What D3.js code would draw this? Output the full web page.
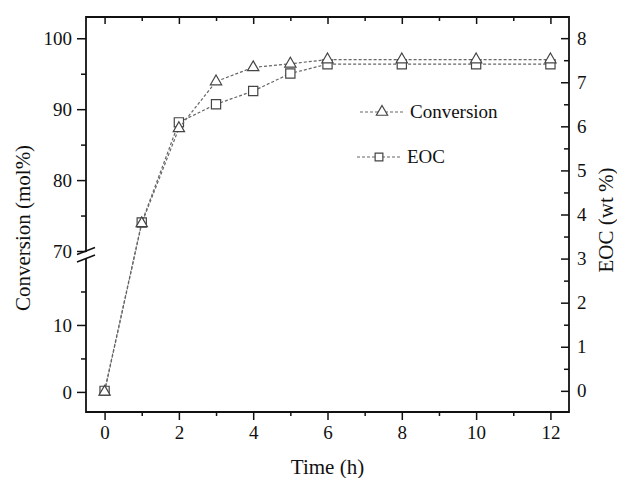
<!DOCTYPE html>
<html>
<head>
<meta charset="utf-8">
<script src="https://cdn.jsdelivr.net/npm/d3@7"></script>
<style>
    body { margin: 0; background: #fff; }
    svg { display: block; }
    text { font-family: "Liberation Serif", "Times New Roman", serif; fill: #111; }
</style>
</head>
<body>
<svg width="617" height="478"></svg>
<script>
// data
const times = [0, 1, 2, 3, 4, 5, 6, 8, 10, 12]
const conversion = [0, 73.9, 87.3, 93.9, 95.9, 96.4, 97.0, 97.0, 97.0, 97.0]   // mol%
const eoc = [0, 3.82, 6.09, 6.5, 6.8, 7.2, 7.41, 7.41, 7.41, 7.41]            // wt %

const xMajor = [0, 2, 4, 6, 8, 10, 12]
const xMinor = [1, 3, 5, 7, 9, 11]
const convLowTicks = [0, 10]
const convLowMinor = [5, 15]
const convHighTicks = [70, 80, 90, 100]
const convHighMinor = [75, 85, 95]
const eocTicks = [0, 1, 2, 3, 4, 5, 6, 7, 8]
const eocMinor = [0.5, 1.5, 2.5, 3.5, 4.5, 5.5, 6.5, 7.5]

const L = 86, R = 569, T = 17, B = 412
const BREAK = 255

const svg = d3.select('svg')

const x = d3.scaleLinear().domain([-0.5, 12.5]).range([L, R])
// broken left axis: two linear pieces
const yLow = d3.scaleLinear().domain([-3, 20]).range([B, 258])
const yHigh = d3.scaleLinear().domain([70, 103]).range([251, T])
const yConv = v => v <= 20 ? yLow(v) : yHigh(v)
const yEoc = d3.scaleLinear().domain([-0.48, 8.48]).range([B, T])

function styleAxis(g, fontSize = 19) {
    g.select('.domain').remove()
    g.selectAll('line').attr('stroke', '#111').attr('stroke-width', 1.5)
    g.selectAll('text')
        .attr('font-size', fontSize)
        .attr('font-family', '"Liberation Serif", serif')
        .attr('fill', '#111')
}

// bottom axis (ticks out)
svg.append('g').attr('transform', `translate(0,${B})`)
    .call(d3.axisBottom(x).tickValues(xMajor).tickSize(8).tickPadding(6).tickFormat(d3.format('d')))
    .call(styleAxis)
svg.append('g').attr('transform', `translate(0,${B})`)
    .call(d3.axisBottom(x).tickValues(xMinor).tickSize(4).tickFormat(''))
    .call(styleAxis)
// top axis (ticks in)
svg.append('g').attr('transform', `translate(0,${T})`)
    .call(d3.axisBottom(x).tickValues(xMajor).tickSize(7).tickFormat(''))
    .call(styleAxis)
svg.append('g').attr('transform', `translate(0,${T})`)
    .call(d3.axisBottom(x).tickValues(xMinor).tickSize(4).tickFormat(''))
    .call(styleAxis)

// left axis, two pieces
svg.append('g').attr('transform', `translate(${L},0)`)
    .call(d3.axisLeft(yLow).tickValues(convLowTicks).tickSize(9).tickPadding(5))
    .call(styleAxis)
svg.append('g').attr('transform', `translate(${L},0)`)
    .call(d3.axisLeft(yLow).tickValues(convLowMinor).tickSize(5).tickFormat(''))
    .call(styleAxis)
svg.append('g').attr('transform', `translate(${L},0)`)
    .call(d3.axisLeft(yHigh).tickValues(convHighTicks).tickSize(9).tickPadding(5))
    .call(styleAxis)
svg.append('g').attr('transform', `translate(${L},0)`)
    .call(d3.axisLeft(yHigh).tickValues(convHighMinor).tickSize(5).tickFormat(''))
    .call(styleAxis)

// right axis (ticks in, labels out)
svg.append('g').attr('transform', `translate(${R},0)`)
    .call(d3.axisRight(yEoc).tickValues(eocTicks).tickSize(-8).tickPadding(8))
    .call(styleAxis)
svg.append('g').attr('transform', `translate(${R},0)`)
    .call(d3.axisRight(yEoc).tickValues(eocMinor).tickSize(-5).tickFormat(''))
    .call(styleAxis)

// frame, left side broken
const frame = d3.path()
frame.moveTo(L, BREAK - 3)
frame.lineTo(L, T)
frame.lineTo(R, T)
frame.lineTo(R, B)
frame.lineTo(L, B)
frame.lineTo(L, BREAK + 4)
svg.append('path')
    .attr('d', frame.toString())
    .style('fill', 'none')
    .style('stroke', '#111')
    .style('stroke-width', 1.8)

// break marks
;[-3.5, 4].forEach(dy => {
    svg.append('line')
        .attr('x1', L - 9).attr('y1', BREAK + dy + 3)
        .attr('x2', L + 9).attr('y2', BREAK + dy - 4)
        .attr('stroke', '#111')
        .attr('stroke-width', 1.5)
})

// series
const line = (ys, yScale) => d3.line()
    .x((d, i) => x(times[i]))
    .y((d, i) => yScale(ys[i]))(times)

function drawSeries(ys, yScale, symbolType, size) {
    svg.append('path')
        .attr('d', line(ys, yScale))
        .style('fill', 'none')
        .style('stroke', '#666')
        .style('stroke-width', 1.2)
        .style('stroke-dasharray', '3,2')
    svg.selectAll(null)
        .data(times)
        .enter()
        .append('path')
        .attr('transform', (d, i) => `translate(${x(d)},${yScale(ys[i])})`)
        .attr('d', d3.symbol(symbolType, size))
        .style('fill', '#fff')
        .style('stroke', '#444')
        .style('stroke-width', 1.2)
}

drawSeries(eoc, yEoc, d3.symbolSquare, 85)
drawSeries(conversion, yConv, d3.symbolTriangle, 55)

// legend
function legendRow(y, symbolType, size, label, x0, x1, tx) {
    svg.append('line')
        .attr('x1', x0).attr('y1', y).attr('x2', x1).attr('y2', y)
        .style('stroke', '#666')
        .style('stroke-width', 1.2)
        .style('stroke-dasharray', '3,2')
    svg.append('path')
        .attr('transform', `translate(${(x0 + x1) / 2},${y})`)
        .attr('d', d3.symbol(symbolType, size))
        .style('fill', '#fff')
        .style('stroke', '#444')
        .style('stroke-width', 1.2)
    svg.append('text')
        .attr('x', tx).attr('y', y + 6)
        .attr('font-size', 19)
        .text(label)
}
legendRow(112, d3.symbolTriangle, 55, 'Conversion', 360, 404, 410)
legendRow(157, d3.symbolSquare, 60, 'EOC', 357, 401, 407)

// axis titles
svg.append('text')
    .attr('x', (L + R) / 2).attr('y', 474)
    .attr('text-anchor', 'middle')
    .attr('font-size', 21)
    .text('Time (h)')
svg.append('text')
    .attr('transform', 'translate(30,228) rotate(-90)')
    .attr('text-anchor', 'middle')
    .attr('font-size', 21)
    .text('Conversion (mol%)')
svg.append('text')
    .attr('transform', 'translate(613,220) rotate(-90)')
    .attr('text-anchor', 'middle')
    .attr('font-size', 21)
    .text('EOC (wt %)')
</script>
</body>
</html>
